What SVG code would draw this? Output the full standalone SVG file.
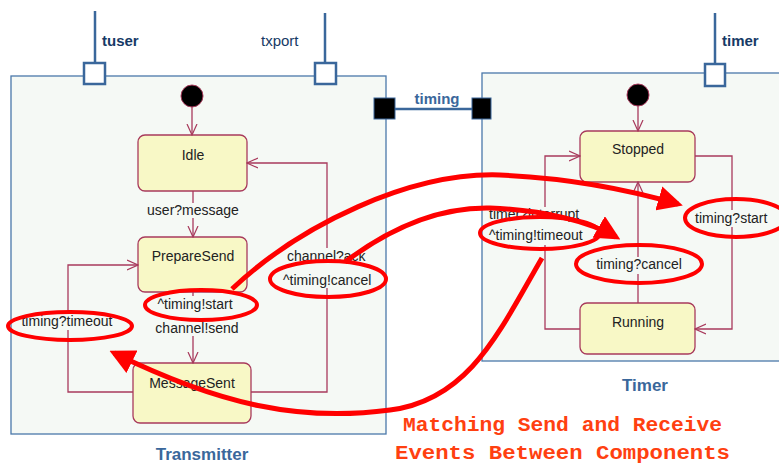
<svg xmlns="http://www.w3.org/2000/svg" width="779" height="465" viewBox="0 0 779 465">
  <style>
    .box { fill: #f5f9f5; stroke: #4a78aa; stroke-width: 1.3; }
    .port { fill: #ffffff; stroke: #3a679b; stroke-width: 2.5; }
    .bport { fill: #000000; stroke: #3a679b; stroke-width: 1; }
    .wire { stroke: #3a679b; stroke-width: 2.5; fill: none; }
    .state { fill: #f8f8c6; stroke: #a83a5c; stroke-width: 1.3; }
    .init { fill: #000000; stroke: #a83a5c; stroke-width: 1; }
    .tr { stroke: #a83a5c; stroke-width: 1.3; fill: none; marker-end: url(#open); }
    .t { font-family: "Liberation Sans", Arial, sans-serif; font-size: 14px; fill: #222222; }
    .pl { font-family: "Liberation Sans", Arial, sans-serif; font-size: 15px; fill: #163a66; }
    .cap { font-family: "Liberation Sans", Arial, sans-serif; font-size: 17px; font-weight: bold; fill: #3a679b; }
    .hl { fill: none; stroke: #ff0000; stroke-width: 4; }
    .ra { fill: none; stroke: #ff0000; stroke-width: 5; marker-end: url(#solid); }
    .note { font-family: "Liberation Mono", "Courier New", monospace; font-size: 20px; font-weight: bold; fill: #ff4010; }
  </style>
  <defs>
    <marker id="open" viewBox="0 0 12 12" refX="11" refY="6" markerWidth="12" markerHeight="12" markerUnits="userSpaceOnUse" orient="auto">
      <path d="M0,1 L11,6 L0,11" fill="none" stroke="#a83a5c" stroke-width="1.2"/>
    </marker>
    <marker id="solid" viewBox="0 0 10 10" refX="8" refY="5" markerWidth="5" markerHeight="5" orient="auto">
      <path d="M0,0 L10,5 L0,10 Z" fill="#ff0000"/>
    </marker>
  </defs>

  <!-- Transmitter component -->
  <g id="transmitter">
    <rect class="box" x="11" y="76" width="375" height="358"/>
    <text class="cap" x="202" y="460" text-anchor="middle">Transmitter</text>
  </g>
  <g id="port-tuser">
    <line class="wire" x1="95" y1="11" x2="95" y2="63"/>
    <rect class="port" x="84" y="63" width="21" height="21"/>
    <text class="pl" x="102" y="46" font-weight="bold">tuser</text>
  </g>
  <g id="port-txport">
    <line class="wire" x1="325" y1="13" x2="325" y2="63"/>
    <rect class="port" x="315" y="63" width="21" height="21"/>
    <text class="pl" x="261" y="46">txport</text>
  </g>

  <!-- Timer component -->
  <g id="timer">
    <rect class="box" x="482" y="73" width="310" height="288"/>
    <text class="cap" x="645" y="391" text-anchor="middle">Timer</text>
  </g>
  <g id="port-timer">
    <line class="wire" x1="715" y1="13" x2="715" y2="64"/>
    <rect class="port" x="705" y="64" width="20" height="22"/>
    <text class="pl" x="722" y="46" font-weight="bold">timer</text>
  </g>

  <!-- timing connector between the components -->
  <g id="timing-link">
    <line class="wire" x1="385" y1="109" x2="481" y2="109"/>
    <rect class="bport" x="374" y="98" width="21" height="21"/>
    <rect class="bport" x="472" y="98" width="19" height="21"/>
    <text class="pl" x="437" y="104" text-anchor="middle" font-weight="bold" style="fill:#3a679b">timing</text>
  </g>

  <!-- Transmitter states -->
  <g id="tx-init"><circle class="init" cx="192" cy="96" r="11"/></g>
  <g id="idle">
    <rect class="state" x="138" y="135" width="109" height="56" rx="7"/>
    <text class="t" x="193" y="160" text-anchor="middle">Idle</text>
  </g>
  <g id="preparesend">
    <rect class="state" x="138" y="237" width="109" height="55" rx="7"/>
    <text class="t" x="193" y="261" text-anchor="middle">PrepareSend</text>
  </g>
  <g id="messagesent">
    <rect class="state" x="133" y="363" width="118" height="60" rx="7"/>
    <text class="t" x="192" y="388" text-anchor="middle">MessageSent</text>
  </g>

  <!-- Timer states -->
  <g id="tm-init"><circle class="init" cx="638" cy="95" r="11"/></g>
  <g id="stopped">
    <rect class="state" x="580" y="131" width="115" height="51" rx="7"/>
    <text class="t" x="638" y="154" text-anchor="middle">Stopped</text>
  </g>
  <g id="running">
    <rect class="state" x="580" y="303" width="115" height="51" rx="7"/>
    <text class="t" x="638" y="327" text-anchor="middle">Running</text>
  </g>

  <!-- State transitions -->
  <g id="transitions">
    <line class="tr" x1="192" y1="107" x2="192" y2="135"/>
    <line class="tr" x1="193" y1="191" x2="193" y2="237"/>
    <line class="tr" x1="193" y1="292" x2="193" y2="363"/>
    <path class="tr" d="M133,392 H68 V265 H138"/>
    <path class="tr" d="M251,392 H327 V163 H247"/>
    <line class="tr" x1="638" y1="106" x2="638" y2="131"/>
    <path class="tr" d="M580,329 H545 V156 H580"/>
    <path class="tr" d="M695,156 H732 V329 H695"/>
    <line class="tr" x1="638" y1="303" x2="638" y2="182"/>
  </g>

  <!-- Transition labels -->
  <g id="labels">
    <rect x="146" y="203" width="96" height="15" fill="#f5f9f5"/>
    <text class="t" x="193" y="215" text-anchor="middle">user?message</text>
    <rect x="150" y="296" width="86" height="40" fill="#f5f9f5"/>
    <text class="t" x="195" y="309" text-anchor="middle">^timing!start</text>
    <text class="t" x="197" y="333" text-anchor="middle">channel!send</text>
    <rect x="20" y="313" width="96" height="17" fill="#f5f9f5"/>
    <text class="t" x="67" y="326" text-anchor="middle">timing?timeout</text>
    <rect x="284" y="248" width="90" height="40" fill="#f5f9f5"/>
    <text class="t" x="287" y="261">channel?ack</text>
    <text class="t" x="283" y="285">^timing!cancel</text>
    <rect x="487" y="207" width="110" height="38" fill="#f5f9f5"/>
    <text class="t" x="489" y="219">timer?interrupt</text>
    <text class="t" x="489" y="240">^timing!timeout</text>
    <rect x="589" y="257" width="100" height="17" fill="#f5f9f5"/>
    <text class="t" x="639" y="269" text-anchor="middle">timing?cancel</text>
    <rect x="696" y="210" width="80" height="17" fill="#f5f9f5"/>
    <text class="t" x="695" y="223">timing?start</text>
  </g>

  <!-- Highlighted send/receive event pairs -->
  <g id="highlights">
    <ellipse class="hl" cx="70" cy="326" rx="62" ry="14"/>
    <ellipse class="hl" cx="201" cy="305" rx="56" ry="15"/>
    <ellipse class="hl" cx="328" cy="279" rx="58" ry="18"/>
    <ellipse class="hl" cx="540" cy="233" rx="60" ry="16"/>
    <ellipse class="hl" cx="639" cy="264" rx="63" ry="19"/>
    <ellipse class="hl" cx="736" cy="218" rx="51" ry="19"/>
    <path class="ra" d="M232,289 C300,225 410,172 500,175 C570,178 630,190 678,204"/>
    <path class="ra" d="M345,262 C390,228 440,207 490,208 C545,210 590,222 616,237"/>
    <path class="ra" d="M542,258 C500,330 470,400 390,410 C300,422 220,405 114,353"/>
  </g>

  <!-- Caption -->
  <g id="caption">
    <text class="note" x="403" y="431" textLength="319" lengthAdjust="spacingAndGlyphs">Matching Send and Receive</text>
    <text class="note" x="395" y="459" textLength="335" lengthAdjust="spacingAndGlyphs">Events Between Components</text>
  </g>
</svg>
